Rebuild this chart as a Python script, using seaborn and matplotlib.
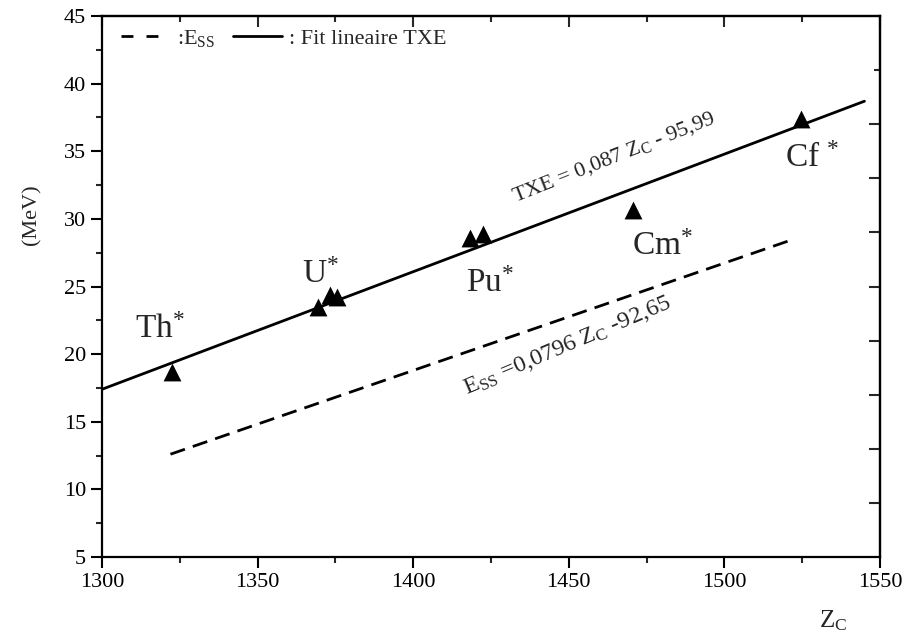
import matplotlib
matplotlib.use("Agg")
import matplotlib.pyplot as plt
import seaborn as sns
import pandas as pd
from matplotlib.ticker import MultipleLocator, FixedLocator
from matplotlib.lines import Line2D

# ---- data ----
zc_points = [1322.4, 1369.5, 1373.3, 1375.6, 1418.3, 1422.3, 1470.7, 1524.5]
txe_points = [18.7, 23.5, 24.35, 24.2, 28.56, 28.85, 30.66, 37.36]

fit_z = [1300, 1545]
fit_txe = [17.4, 38.7]

ess_z = [1322, 1521]
ess_val = [12.6, 28.4]

element_labels = ["Th", "U", "Pu", "Cm", "Cf "]
element_z = [1310.6, 1364.2, 1417.0, 1470.2, 1519.5]
element_y = [21.2, 25.26, 24.6, 27.33, 33.8]

legend_labels = [":E$_{\\mathrm{SS}}$", ": Fit lineaire TXE"]
fit_text = "TXE = 0,087 Z$_{\\mathrm{C}}$ - 95,99"
ess_text = "E$_{\\mathrm{SS}}$ =0,0796 Z$_{\\mathrm{C}}$ -92,65"

# ---- style ----
sns.set_style("ticks")
plt.rcParams["font.family"] = ["Liberation Serif", "DejaVu Serif"]
plt.rcParams["mathtext.fontset"] = "custom"
plt.rcParams["mathtext.rm"] = "Liberation Serif"
plt.rcParams["mathtext.it"] = "Liberation Serif:italic"
plt.rcParams["mathtext.bf"] = "Liberation Serif:bold"

fig = plt.figure(figsize=(9.06, 6.40), dpi=100)
ax = fig.add_axes([102 / 906, 1 - 557 / 640, 778 / 906, 541 / 640])

df_pts = pd.DataFrame({"Zc": zc_points, "TXE": txe_points})
df_fit = pd.DataFrame({"Zc": fit_z, "E": fit_txe})
df_ess = pd.DataFrame({"Zc": ess_z, "E": ess_val})

sns.lineplot(data=df_ess, x="Zc", y="E", ax=ax, color="black", lw=2, legend=False)
ax.lines[-1].set_linestyle((0, (5.5, 3)))
sns.lineplot(data=df_fit, x="Zc", y="E", ax=ax, color="black", lw=2, legend=False)
sns.scatterplot(data=df_pts, x="Zc", y="TXE", ax=ax, marker="^", s=165,
                color="black", edgecolor="black", linewidth=0, zorder=5,
                legend=False)

ax.set_xlim(1300, 1550)
ax.set_ylim(5, 45)

# ticks
ax.xaxis.set_major_locator(MultipleLocator(50))
ax.xaxis.set_minor_locator(MultipleLocator(25))
ax.yaxis.set_major_locator(MultipleLocator(5))
ax.yaxis.set_minor_locator(MultipleLocator(2.5))
ax.tick_params(axis="both", which="major", direction="out", length=8, width=1.5,
               labelsize=16, top=False, right=False, colors="black")
ax.tick_params(axis="both", which="minor", direction="out", length=4.5, width=1.5,
               top=False, right=False)
for sp in ax.spines.values():
    sp.set_linewidth(1.6)
    sp.set_color("black")

secx = ax.secondary_xaxis("top")
secx.xaxis.set_major_locator(MultipleLocator(50))
secx.xaxis.set_minor_locator(MultipleLocator(25))
secx.tick_params(axis="x", which="major", direction="in", length=8, width=1.5, labeltop=False)
secx.tick_params(axis="x", which="minor", direction="in", length=4.5, width=1.5)
secx.spines["top"].set_linewidth(1.6)

secy = ax.secondary_yaxis("right")
secy.yaxis.set_major_locator(FixedLocator([9, 13, 17, 21, 25, 29, 33, 37]))
secy.yaxis.set_minor_locator(FixedLocator([41]))
secy.tick_params(axis="y", which="major", direction="in", length=8, width=1.5, labelright=False)
secy.tick_params(axis="y", which="minor", direction="in", length=4.5, width=1.5)
secy.spines["right"].set_linewidth(1.6)

# labels
ax.set_xlabel("Z$_{\\mathrm{C}}$", fontsize=18)
ax.xaxis.set_label_coords(0.94, -0.095)
ax.set_ylabel("(MeV)", fontsize=16)
ax.yaxis.set_label_coords(-0.078, 0.632)

# legend (proxy handles for the two line styles)
h_dash = Line2D([], [], color="black", lw=2, linestyle=(0, (4.3, 4.7)))
h_solid = Line2D([], [], color="black", lw=2)
ax.legend([h_dash, h_solid], legend_labels, loc="upper left",
          bbox_to_anchor=(0.025, 0.978), ncol=2, frameon=False, fontsize=16,
          handlelength=2.2, handletextpad=0.3, columnspacing=0.8,
          borderpad=0, borderaxespad=0)

# element annotations
for lab, zx, yy in zip(element_labels, element_z, element_y):
    ax.text(zx, yy, lab + "$^{*}$", fontsize=24, ha="left", va="baseline")

ax.text(1432.7, 31.27, fit_text, fontsize=16, rotation=21.6,
        rotation_mode="anchor", ha="left", va="baseline")
ax.text(1417.2, 17.0, ess_text, fontsize=17.5, rotation=23,
        rotation_mode="anchor", ha="left", va="baseline")

fig.savefig("out.png", dpi=100)
